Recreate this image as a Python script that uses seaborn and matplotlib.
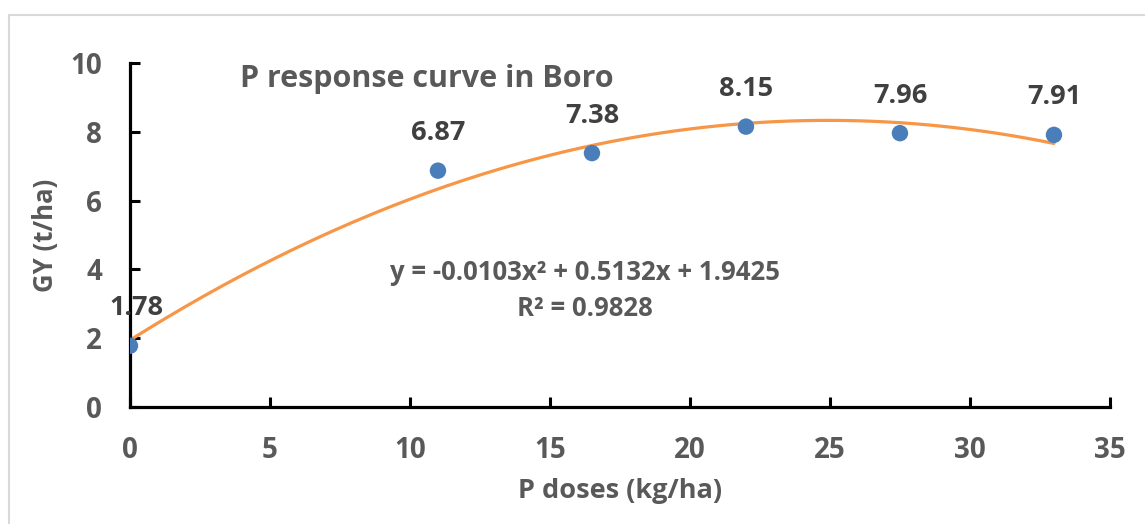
import numpy as np
import matplotlib
matplotlib.use('Agg')
import matplotlib.pyplot as plt
import seaborn as sns
from matplotlib.patches import Rectangle

# Données : doses de P et rendement en grain
p_doses = [0, 11, 16.5, 22, 27.5, 33]
gy_values = [1.78, 6.87, 7.38, 8.15, 7.96, 7.91]
point_labels = ['1.78', '6.87', '7.38', '8.15', '7.96', '7.91']
x_ticks = [0, 5, 10, 15, 20, 25, 30, 35]
y_ticks = [0, 2, 4, 6, 8, 10]
title_text = 'P response curve in Boro'
equation_text = 'y = -0.0103x² + 0.5132x + 1.9425'
r2_text = 'R² = 0.9828'

sns.set_style('white')
plt.rcParams['font.family'] = ['Open Sans', 'DejaVu Sans']
plt.rcParams['font.weight'] = 'bold'

TICK_GREY = '#595959'
LABEL_GREY = '#404040'

fig = plt.figure(figsize=(11.45, 5.24), dpi=100)
ax = fig.add_axes([0.1135, 0.2233, 0.8559, 0.6565])

# bordure du graphique (style Excel)
fig.patches.append(Rectangle((0.008, -0.01), 1.0, 0.981, transform=fig.transFigure,
                             fill=False, edgecolor='#d9d9d9', linewidth=1.5))

# courbe de tendance polynomiale (ordre 2)
coef = np.polyfit(p_doses, gy_values, 2)
xs = np.linspace(min(p_doses), max(p_doses), 200)
sns.lineplot(x=xs, y=np.polyval(coef, xs), ax=ax, color='#F79646', linewidth=2.3, zorder=2)

sns.scatterplot(x=p_doses, y=gy_values, ax=ax, color='#4A7EBB', s=140,
                edgecolor='none', zorder=3)

for xv, yv, lab in zip(p_doses, gy_values, point_labels):
    dx = 5 if xv == 0 else 0
    ax.annotate(lab, (xv, yv), xytext=(dx, 27), textcoords='offset points',
                ha='center', va='center', fontsize=19.5, fontweight='bold', color=LABEL_GREY)

ax.text(10.6, 9.54, title_text, ha='center', va='center', fontsize=22,
        fontweight='bold', color=TICK_GREY)
ax.text(16.25, 3.92, equation_text, ha='center', va='center', fontsize=18.5,
        fontweight='bold', color=TICK_GREY)
ax.text(16.25, 2.86, r2_text, ha='center', va='center', fontsize=18.5,
        fontweight='bold', color=TICK_GREY)

ax.set_xlim(0, 35)
ax.set_ylim(0, 10)
ax.set_xticks(x_ticks)
ax.set_yticks(y_ticks)
ax.tick_params(axis='both', direction='in', length=7, width=2.2, colors='black',
               labelcolor=TICK_GREY, labelsize=20, bottom=True, left=True)
ax.tick_params(axis='x', pad=21)
ax.tick_params(axis='y', pad=20)
for lab in ax.get_xticklabels() + ax.get_yticklabels():
    lab.set_fontweight('bold')

for side in ['top', 'right']:
    ax.spines[side].set_visible(False)
for side in ['left', 'bottom']:
    ax.spines[side].set_color('black')
    ax.spines[side].set_linewidth(2.3)

ax.set_xlabel('P doses (kg/ha)', fontsize=19.5, fontweight='bold', color=TICK_GREY, labelpad=9)
ax.set_ylabel('GY (t/ha)', fontsize=18.5, fontweight='bold', color=TICK_GREY, labelpad=8)

fig.savefig('out.png', dpi=100, facecolor='white')
